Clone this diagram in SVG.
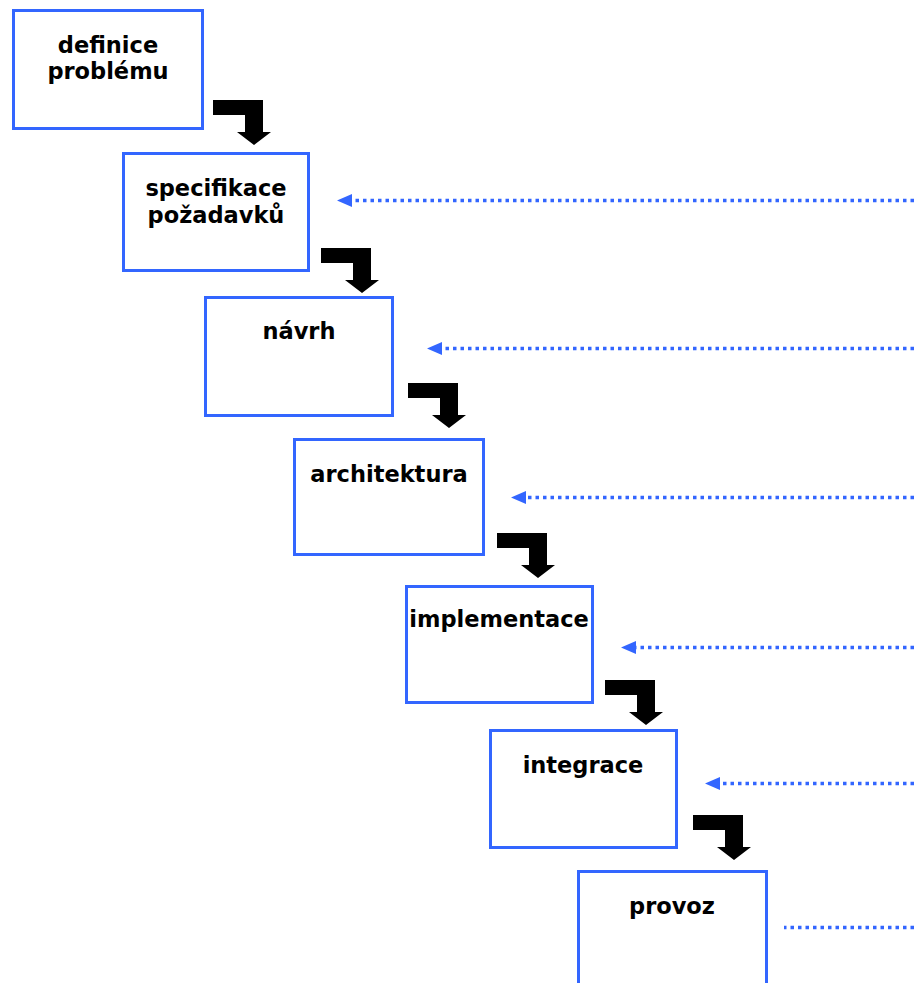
<svg xmlns="http://www.w3.org/2000/svg" width="914" height="983" viewBox="0 0 914 983">
  <style>
    .box { fill: #ffffff; stroke: #3366ff; stroke-width: 3; }
    .label { font-family: "DejaVu Sans", Verdana, sans-serif; font-weight: bold; font-size: 22.5px; fill: #000000; text-anchor: middle; }
    .feedback { fill: none; stroke: #3366ff; stroke-width: 3.5; stroke-dasharray: 3.5 4; }
    .step { fill: #000000; }
  </style>
  <defs>
    <marker id="head" viewBox="0 0 15 13" refX="0" refY="6.5" markerWidth="15" markerHeight="13" markerUnits="userSpaceOnUse" orient="auto">
      <path d="M0,0 L15,6.5 L0,13 Z" fill="#3366ff"/>
    </marker>
    <path id="bent" d="M0,0 H50 V32 H58 L41,45 L24,32 H32 V15 H0 Z"/>
  </defs>
  <rect width="914" height="983" fill="#ffffff"/>

  <g id="connectors">
    <use href="#bent" class="step" x="213" y="100"/>
    <use href="#bent" class="step" x="321" y="248"/>
    <use href="#bent" class="step" x="408" y="383"/>
    <use href="#bent" class="step" x="497" y="533"/>
    <use href="#bent" class="step" x="605" y="680"/>
    <use href="#bent" class="step" x="693" y="815"/>

    <path class="feedback" d="M914,200.5 H352" marker-end="url(#head)"/>
    <path class="feedback" d="M914,348.5 H442" marker-end="url(#head)"/>
    <path class="feedback" d="M914,497.5 H526" marker-end="url(#head)"/>
    <path class="feedback" d="M914,647.5 H636" marker-end="url(#head)"/>
    <path class="feedback" d="M914,783.5 H720" marker-end="url(#head)"/>
    <path class="feedback" d="M914,927.5 H784"/>
  </g>

  <g id="definice">
    <rect class="box" x="13.5" y="10.5" width="189" height="118"/>
    <text class="label" x="108" y="53">definice</text>
    <text class="label" x="108" y="79">problému</text>
  </g>
  <g id="specifikace">
    <rect class="box" x="123.5" y="153.5" width="185" height="117"/>
    <text class="label" x="216" y="196">specifikace</text>
    <text class="label" x="216" y="223">požadavků</text>
  </g>
  <g id="navrh">
    <rect class="box" x="205.5" y="297.5" width="187" height="118"/>
    <text class="label" x="299" y="339">návrh</text>
  </g>
  <g id="architektura">
    <rect class="box" x="294.5" y="439.5" width="189" height="115"/>
    <text class="label" x="389" y="482">architektura</text>
  </g>
  <g id="implementace">
    <rect class="box" x="406.5" y="586.5" width="186" height="116"/>
    <text class="label" x="499" y="627">implementace</text>
  </g>
  <g id="integrace">
    <rect class="box" x="490.5" y="730.5" width="186" height="117"/>
    <text class="label" x="583" y="773">integrace</text>
  </g>
  <g id="provoz">
    <rect class="box" x="578.5" y="871.5" width="188" height="130"/>
    <text class="label" x="672" y="914">provoz</text>
  </g>
</svg>
